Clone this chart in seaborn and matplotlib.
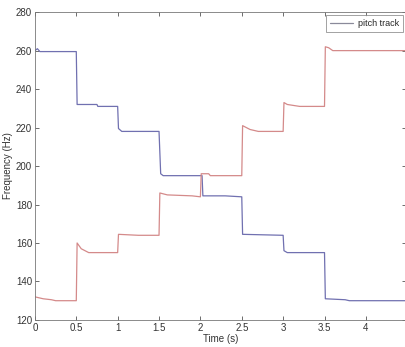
import matplotlib
matplotlib.use('Agg')
import matplotlib.pyplot as plt
import seaborn as sns

# descending track (blue)
blue_t = [0, 0.03, 0.06, 0.5, 0.51, 0.75, 0.76, 1.0, 1.01, 1.05, 1.5, 1.52, 1.55,
          2.02, 2.03, 2.3, 2.5, 2.51, 3.0, 3.01, 3.05, 3.5, 3.51, 3.75, 3.8, 4.48]
blue_f = [260, 261, 259.5, 259.5, 232, 232, 231, 231, 219.5, 218, 218, 196, 195,
          195, 184.5, 184.5, 184, 164.5, 164, 156, 155, 155, 131, 130.5, 130, 130]

# ascending track (red)
red_t = [0, 0.1, 0.2, 0.25, 0.5, 0.51, 0.56, 0.65, 1.0, 1.01, 1.25, 1.5, 1.51, 1.6,
         1.9, 2.0, 2.01, 2.1, 2.12, 2.5, 2.51, 2.6, 2.7, 3.0, 3.01, 3.05, 3.2, 3.5,
         3.51, 3.55, 3.6, 4.48]
red_f = [132, 131, 130.5, 130, 130, 160, 157, 155, 155, 164.5, 164, 164, 186, 185,
         184.5, 184, 196, 196, 195, 195, 221, 219, 218, 218, 233, 232, 231, 231,
         262, 261.5, 260, 260]

x_ticks = [0, 0.5, 1, 1.5, 2, 2.5, 3, 3.5, 4]
y_ticks = [120, 140, 160, 180, 200, 220, 240, 260, 280]

sns.set_style('ticks')
plt.rcParams['font.family'] = ['Liberation Sans', 'DejaVu Sans']

fig = plt.figure(figsize=(4.06, 3.47), dpi=100)
ax = fig.add_axes([0.086, 0.078, 0.913, 0.887])

sns.lineplot(x=blue_t, y=blue_f, ax=ax, color='#7070b0', linewidth=0.9,
             sort=False, label='pitch track')
sns.lineplot(x=red_t, y=red_f, ax=ax, color='#d48a8a', linewidth=0.9,
             sort=False)

ax.set_xlim(0, 4.48)
ax.set_ylim(120, 280)
ax.set_xticks(x_ticks)
ax.set_xticklabels([str(t) for t in x_ticks])
ax.set_yticks(y_ticks)
ax.tick_params(direction='in', top=True, right=True, labelsize=7, length=3,
               width=0.6, colors='#555555', labelcolor='#333333', pad=2)
for s in ax.spines.values():
    s.set_linewidth(0.6)
    s.set_color('#777777')
ax.set_xlabel('Time (s)', fontsize=7, labelpad=1, color='#333333')
ax.set_ylabel('Frequency (Hz)', fontsize=7, labelpad=2, color='#333333')

leg = ax.legend(loc='upper right', fontsize=6.5, frameon=True, fancybox=False,
                handlelength=2.6, handletextpad=0.5, borderpad=0.45,
                borderaxespad=0.3)
leg.get_frame().set_edgecolor('#777777')
leg.get_frame().set_linewidth(0.6)
leg.get_lines()[0].set_color('#8a8a9a')

plt.savefig('out.png', dpi=100)
plt.close()
